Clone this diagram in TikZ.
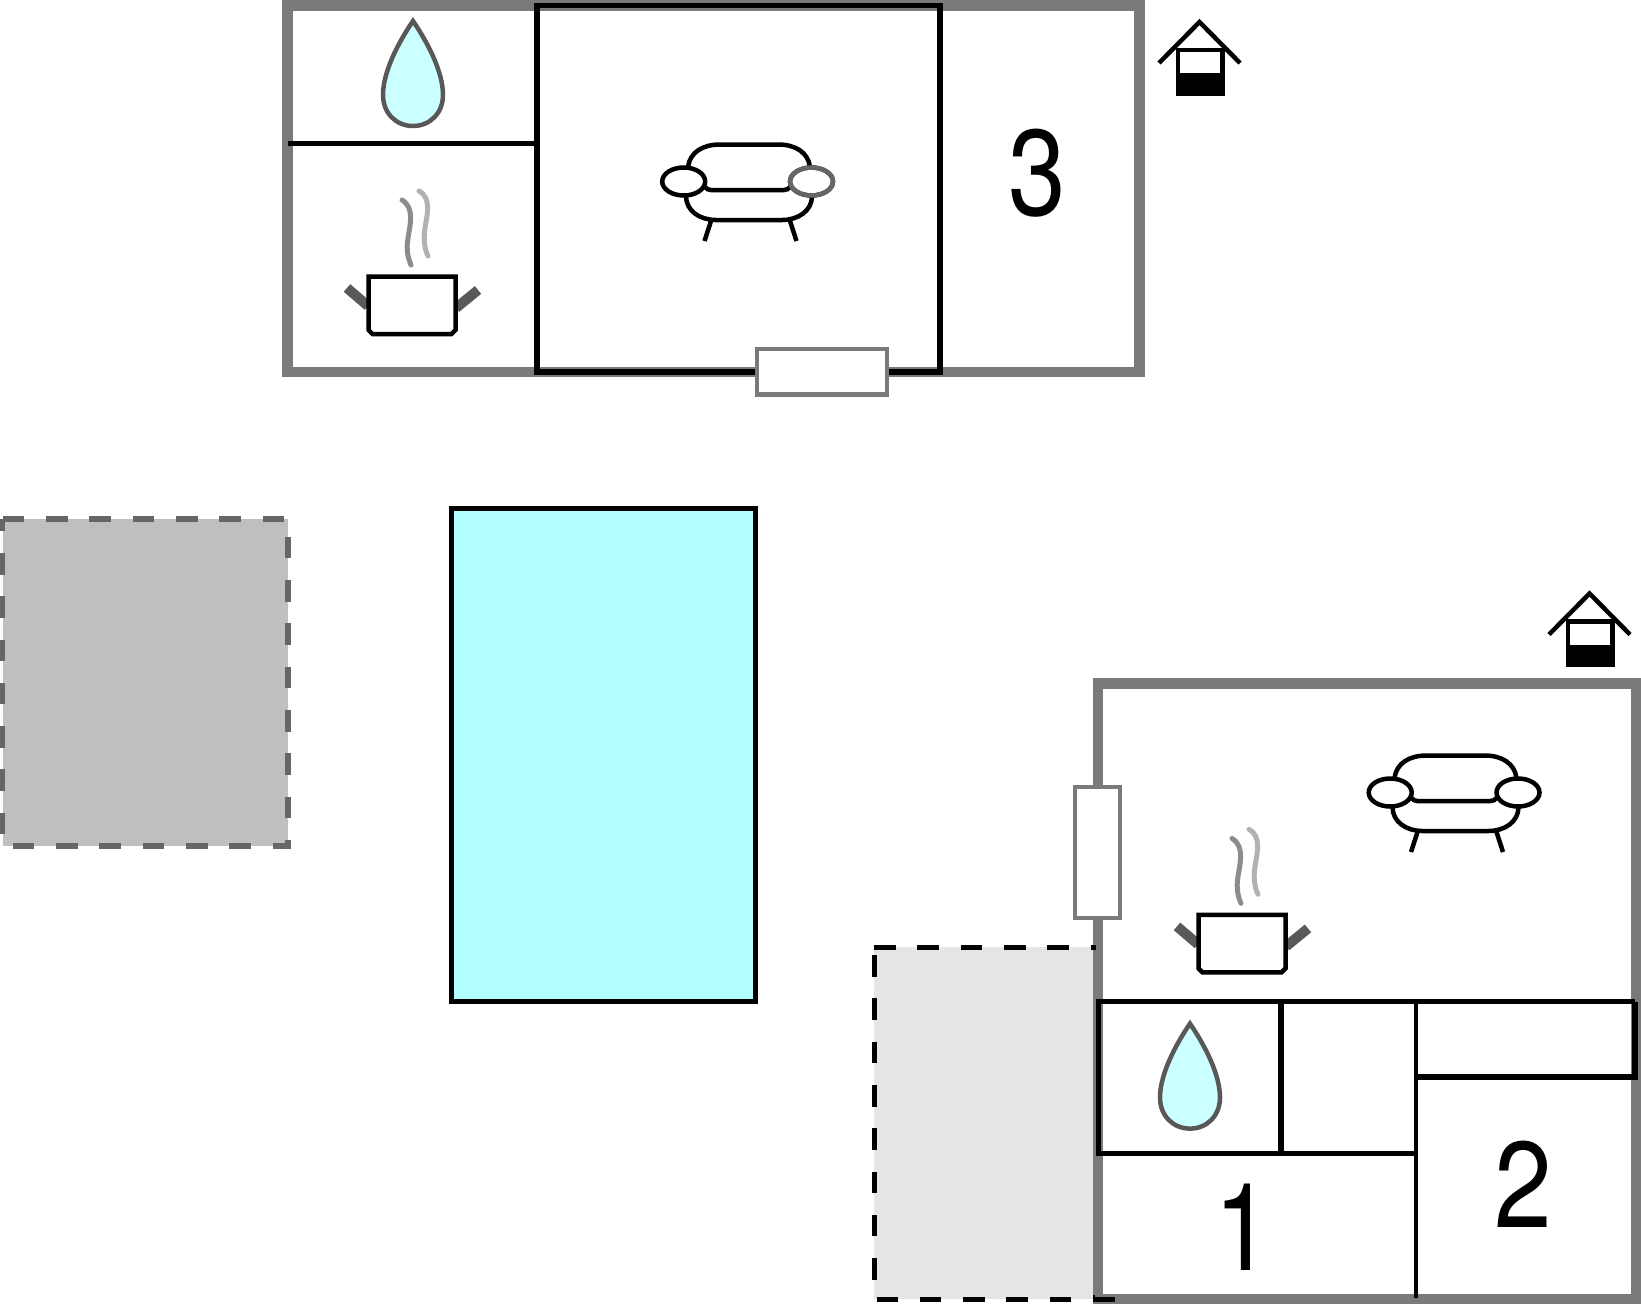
\documentclass[tikz,border=0pt]{standalone}
\usepackage{fontspec}
\setmainfont{TeX Gyre Heros}
\definecolor{wallgray}{HTML}{7A7A7A}
\definecolor{dropfill}{HTML}{CCFFFF}
\definecolor{poolfill}{HTML}{B3FFFF}
\definecolor{dropline}{HTML}{585858}
\tikzset{
  wall/.style={draw=wallgray,line width=10.5pt},
  inner wall/.style={draw=black,line width=5.5pt},
  icon/.style={draw=black,line width=4.5pt},
  windowbox/.style={draw=wallgray,line width=4.5pt,fill=white},
  digit/.style={font=\fontsize{122}{122}\selectfont,inner sep=0pt,xscale=.85,transform shape},
  dash run/.style={dash pattern=on 21.6pt off 21.7pt},
  sofa/.pic={
    \draw[icon] (688,167) .. controls (690,152) and (703,144.5) .. (720,144.5) -- (778,144.5) .. controls (795,144.5) and (808,152) .. (810,167);
    \draw[icon] (686,196) .. controls (686,211) and (700,220) .. (716,220) -- (782,220) .. controls (798,220) and (812,211) .. (812,196);
    \draw[icon] (705,187) .. controls (707,189) and (708,190) .. (711,190) -- (784,190) .. controls (787,190) and (788,189) .. (790,187);
    \draw[icon] (711,221) -- (704.5,241);
    \draw[icon] (790,221) -- (796.5,241);
    \draw[icon,fill=white] (683.7,181.5) ellipse [x radius=21.5,y radius=14];
    \draw[icon,fill=white] (811.5,181.5) ellipse [x radius=21.5,y radius=14];
  },
  potset/.pic={
    \draw[draw=black!65,line width=10pt] (347,288) -- (368,306);
    \draw[draw=black!65,line width=10pt] (478,290) -- (456,308);
    \draw[draw=black!45,line width=5pt,line cap=round] (402,200) .. controls (415,208) and (410,225) .. (408,238) .. controls (406,250) and (408,258) .. (411,265);
    \draw[draw=black!30,line width=5pt,line cap=round] (419,191) .. controls (432,198) and (427,215) .. (425,228) .. controls (423,240) and (425,250) .. (428,256);
    \draw[icon,fill=white] (368.5,276.5) -- (455.5,276.5) -- (455.5,330) -- (451.5,334) -- (372.5,334) -- (368.5,330) -- cycle;
  },
  dropset/.pic={
    \draw[draw=dropline,line width=4.5pt,fill=dropfill] (413,21) .. controls (428,43) and (443,72) .. (443,95) .. controls (443,113) and (430,126) .. (413,126) .. controls (396,126) and (383,113) .. (383,95) .. controls (383,72) and (398,43) .. (413,21) -- cycle;
  },
  houseset/.pic={
    \fill[black] (1176,73) rectangle (1224.5,95.5);
    \draw[draw=black,line width=4.5pt] (1178,50) rectangle (1222.5,93.5);
    \draw[icon] (1159,63) -- (1199.5,22) -- (1240,63);
  }
}
\begin{document}
\begin{tikzpicture}[x=1pt,y=-1pt]
\useasboundingbox (0,0) rectangle (1641,1304);
% outdoor areas
\draw[fill=black!25,draw=black!60,line width=5.5pt,dash run] (2.7,519) -- (288,519) -- (288,846) -- (2.7,846) -- cycle;
\fill[black!10] (874,947) rectangle (1096,1299);
\draw[fill=poolfill,draw=black,line width=5pt] (451,508.6) rectangle (755.6,1001.6);
% upper building
\draw[wall] (287.5,5.5) rectangle (1139.5,372);
\draw[inner wall] (537,5.7) rectangle (940,372);
\draw[inner wall] (287.5,143.5) -- (537,143.5);
\draw[windowbox] (757,349) rectangle (887,394.6);
\pic at (0,0) {dropset};
\pic at (0,0) {potset};
\pic at (0,0) {sofa};
\draw[draw=black!60,line width=4.5pt] (811.5,181.5) ellipse [x radius=21.5,y radius=14];
\pic at (0,0) {houseset};
\node[digit] (three) at (1037,173) {3};
% lower building
\draw[wall] (1098,683.5) rectangle (1636,1299);
\draw[windowbox] (1075,787) rectangle (1120,918);
\draw[inner wall] (1098.5,1001.6) rectangle (1281,1153.4);
\draw[inner wall] (1281,1001.6) -- (1635,1001.6);
\draw[inner wall] (1281,1153.4) -- (1416,1153.4);
\draw[draw=black,line width=4.5pt] (1416,1001.6) -- (1416,1298);
\draw[inner wall] (1416,1077) -- (1635,1077) -- (1635,1001.6);
\pic at (777,1002.6) {dropset};
\pic at (830,638.4) {potset};
\pic at (706.5,611) {sofa};
\pic at (390,571.5) {houseset};
\node[digit] (one) at (1243,1227) {1};
\node[digit] (two) at (1523,1184) {2};
% terrace outline
\draw[draw=black,line width=5pt,dash run] (874,947) -- (1096,947);
\draw[draw=black,line width=5pt,dash run] (874,955) -- (874,1299);
\draw[draw=black,line width=5pt,dash run] (876.5,1299) -- (1115,1299);
\draw[draw=black,line width=2pt] (1094,1295) -- (1094,1299);
\end{tikzpicture}
\end{document}
